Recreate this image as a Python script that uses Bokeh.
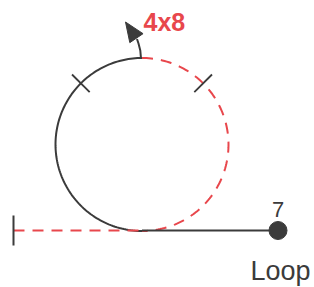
import numpy as np
from bokeh.plotting import figure
from bokeh.models import Range1d
from bokeh.core.properties import value
from bokeh.embed import file_html
from bokeh.resources import INLINE

# ---- diagram data (screen-like units, y grows downward) ----
circle_center = [141.5, 144.0]
circle_radius = [86.5]
baseline_y = [230.0]
entry_x = [13.0, 141.5]          # dashed red approach
exit_x = [141.5, 277.5]          # solid exit to landing point
landing_point = [277.5, 230.0]
start_tick_half = [15.0]
tick_angles_deg = [135.0, 45.0]  # radial marks on the loop
tick_half_len = [12.5]
arrow_shaft_x = [140.5, 139.8, 138.0, 136.5]
arrow_shaft_y = [58.0, 50.0, 43.0, 38.5]
arrow_tip = [125.0, 21.5]
rotation_label = ["4x8"]
point_label = ["7"]
name_label = ["Loop"]

BLACK = "#3b3b3b"
RED = "#e8474c"

W, H = 314, 287
p = figure(width=W, height=H, output_backend="svg", toolbar_location=None,
           x_range=Range1d(0, W), y_range=Range1d(H, 0),
           min_border=0)
p.axis.visible = False
p.grid.visible = False
p.outline_line_color = None
p.background_fill_color = "white"
p.border_fill_color = "white"

cx, cy = circle_center
r = circle_radius[0]
by = baseline_y[0]

# left half solid (top -> left -> bottom)
t = np.radians(np.linspace(90, 270, 120))
p.line(cx + r * np.cos(t), cy - r * np.sin(t), line_color=BLACK, line_width=2)
# right half dashed red (top -> right -> bottom)
t2 = np.radians(np.linspace(90, -90, 120))
p.line(cx + r * np.cos(t2), cy - r * np.sin(t2), line_color=RED, line_width=2,
       line_dash="11 8")

# entry (dashed) and exit (solid)
p.line(entry_x, [by, by], line_color=RED, line_width=2, line_dash="11 8")
p.line(exit_x, [by, by], line_color=BLACK, line_width=2)

# start tick
p.line([entry_x[0], entry_x[0]], [by - start_tick_half[0], by + start_tick_half[0]],
       line_color=BLACK, line_width=2)

# radial ticks on circle
for a in tick_angles_deg:
    ar = np.radians(a)
    ux, uy = np.cos(ar), -np.sin(ar)
    px, py = cx + r * ux, cy + r * uy
    h = tick_half_len[0]
    p.line([px - h * ux, px + h * ux], [py - h * uy, py + h * uy],
           line_color=BLACK, line_width=1.8)

# arrow
p.line(arrow_shaft_x, arrow_shaft_y, line_color=BLACK, line_width=2)
tx, ty = arrow_tip
bx, by2 = arrow_shaft_x[-1], arrow_shaft_y[-1]
dx, dy = tx - bx, ty - by2
L = np.hypot(dx, dy)
ux, uy = dx / L, dy / L
head_len, head_half = 19.5, 8.0
mx, my = tx - head_len * ux, ty - head_len * uy
p.patch([tx, mx - head_half * uy, mx + head_half * uy],
        [ty, my + head_half * ux, my - head_half * ux],
        fill_color=BLACK, line_color=BLACK, line_width=1)

# landing dot
p.scatter([landing_point[0]], [landing_point[1]], size=18, marker="circle",
          fill_color=BLACK, line_color=BLACK)

# labels
p.text([143], [21], text=rotation_label, text_font=value("Liberation Sans"),
       text_font_size="25px", text_font_style="bold", text_color=RED,
       text_align="left", text_baseline="alphabetic")
p.text([landing_point[0]], [209], text=point_label, text_font=value("Liberation Sans"),
       text_font_size="22px", text_color=BLACK, text_align="center",
       text_baseline="alphabetic")
p.text([250], [270], text=name_label, text_font=value("Liberation Sans"),
       text_font_size="27px", text_color=BLACK, text_align="left",
       text_baseline="alphabetic")

open("out.html", "w").write(file_html(p, INLINE))
